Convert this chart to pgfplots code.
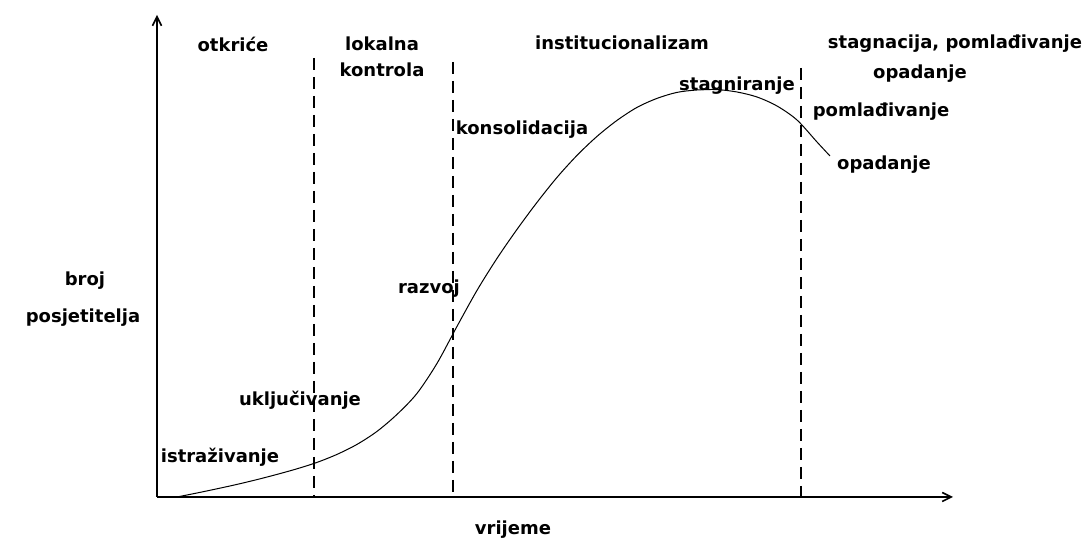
\documentclass[border=0pt]{standalone}
\usepackage{fontspec}
\setmainfont{DejaVu Sans}
\usepackage{pgfplots}
\pgfplotsset{compat=1.18}
\usetikzlibrary{arrows.meta}
\begin{document}
\begin{tikzpicture}[lbl/.style={font=\fontsize{18pt}{22pt}\selectfont\bfseries, inner sep=0pt}]
\path[use as bounding box] (0,0) rectangle (1085pt,545pt);
\begin{axis}[
  at={(157pt,48pt)}, anchor=origin,
  x=1pt, y=1pt,
  xmin=0, xmax=796, ymin=0, ymax=482,
  enlargelimits=false,
  axis lines=left,
  xtick=\empty, ytick=\empty,
  clip=false,
  axis line style={line width=1.6pt, -{Straight Barb[length=9pt,width=9pt]}},
]
% stage boundaries
\addplot[black, line width=1.3pt, dash pattern=on 12pt off 7pt] coordinates {(157,439) (157,0)};
\addplot[black, line width=1.3pt, dash pattern=on 12pt off 7pt] coordinates {(296,435) (296,0)};
\addplot[black, line width=1.3pt, dash pattern=on 12pt off 7pt] coordinates {(644,429) (644,0)};
% life-cycle curve
\addplot[black, line width=1pt, smooth, tension=0.5] coordinates {
 (20,0) (40,4) (60,8.2) (80,12.6) (100,17.4) (120,22.6) (140,28.2) (160,34.6)
 (180,42.6) (200,52.6) (220,65.6) (240,82.6) (260,103.6) (280,133.6) (300,170.6)
 (320,206.6) (340,238.6) (360,267.6) (380,294.6) (400,319.6) (420,341.6)
 (440,360.6) (460,376.6) (480,389.6) (500,398.6) (520,404.6) (540,407)
 (560,407.4) (580,405) (600,400) (620,391) (640,377) (660,355) (673,341)};
% labels
\node[lbl] at (axis cs:76,453) {otkriće};
\node[lbl] at (axis cs:225,453) {lokalna};
\node[lbl] at (axis cs:225,427) {kontrola};
\node[lbl] at (axis cs:465,454) {institucionalizam};
\node[lbl] at (axis cs:798,453) {stagnacija, pomlađivanje};
\node[lbl] at (axis cs:763,423) {opadanje};
\node[lbl] at (axis cs:580,411) {stagniranje};
\node[lbl] at (axis cs:724,385) {pomlađivanje};
\node[lbl] at (axis cs:727,332) {opadanje};
\node[lbl] at (axis cs:365,367) {konsolidacija};
\node[lbl] at (axis cs:272,208) {razvoj};
\node[lbl] at (axis cs:143,97) {uključivanje};
\node[lbl] at (axis cs:63,40) {istraživanje};
\node[lbl] at (axis cs:-72,216) {broj};
\node[lbl] at (axis cs:-74,179) {posjetitelja};
\node[lbl] at (axis cs:356,-33) {vrijeme};
\end{axis}
\end{tikzpicture}
\end{document}
